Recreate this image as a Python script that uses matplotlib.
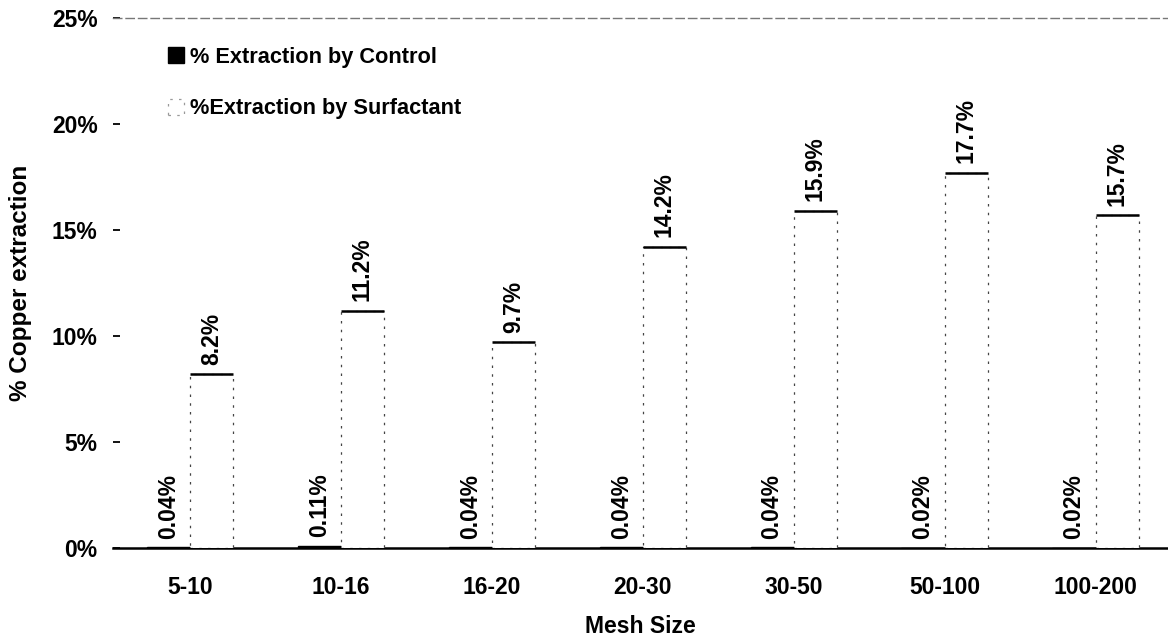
import numpy as np
import matplotlib
matplotlib.use("Agg")
import matplotlib.pyplot as plt

# values (% copper extraction)
mesh_sizes = ["5-10", "10-16", "16-20", "20-30", "30-50", "50-100", "100-200"]
control = [0.04, 0.11, 0.04, 0.04, 0.04, 0.02, 0.02]
surfactant = [8.2, 11.2, 9.7, 14.2, 15.9, 17.7, 15.7]
control_labels = ["0.04%", "0.11%", "0.04%", "0.04%", "0.04%", "0.02%", "0.02%"]
surfactant_labels = ["8.2%", "11.2%", "9.7%", "14.2%", "15.9%", "17.7%", "15.7%"]
y_ticks = [0, 5, 10, 15, 20, 25]

plt.rcParams['font.family'] = ['Liberation Sans', 'DejaVu Sans']
plt.rcParams['font.weight'] = 'bold'

fig = plt.figure(figsize=(11.68, 6.43), dpi=100)
ax = fig.add_axes([0.0967, 0.1477, 0.9033, 0.8243])

x = np.arange(len(mesh_sizes))
w = 0.2857

ax.bar(x - w / 2, control, w, color='black', edgecolor='black',
       linewidth=1.0, label='% Extraction by Control', zorder=3)
ax.bar(x + w / 2, surfactant, w, color='white', edgecolor='#444444',
       linewidth=0.9, linestyle=(0, (2, 5)),
       label='%Extraction by Surfactant', zorder=3)
# solid top edge of the surfactant bars, as on the scan
ax.hlines(surfactant, x, x + w, color='black', linewidth=1.8, zorder=4)

for xi, v, t in zip(x - w / 2, control, control_labels):
    ax.text(xi, v + 0.4, t, rotation=90, ha='center', va='bottom',
            fontsize=16.5, fontweight='bold')
for xi, v, t in zip(x + w / 2, surfactant, surfactant_labels):
    ax.text(xi, v + 0.45, t, rotation=90, ha='center', va='bottom',
            fontsize=16.5, fontweight='bold')

ax.set_xlim(-0.51, 6.48)
ax.set_ylim(0, 25)
ax.set_yticks(y_ticks)
ax.set_yticklabels([f"{t}%" for t in y_ticks], fontsize=16.5, fontweight='bold')
ax.set_xticks(x)
ax.set_xticklabels(mesh_sizes, fontsize=16.5, fontweight='bold')
ax.tick_params(axis='x', length=0, pad=20)
ax.tick_params(axis='y', direction='in', length=5, width=1.3, pad=11)

ax.spines['left'].set_visible(False)
ax.spines['right'].set_visible(False)
ax.spines['top'].set_linestyle((0, (6, 3)))
ax.spines['top'].set_color('#777777')
ax.spines['top'].set_linewidth(1.0)
ax.spines['bottom'].set_linewidth(1.8)

ax.set_xlabel("Mesh Size", fontsize=16.5, fontweight='bold', labelpad=12)
ax.set_ylabel("% Copper extraction", fontsize=17.5, fontweight='bold', labelpad=14)

leg = ax.legend(loc='upper left', bbox_to_anchor=(0.044, 0.962), frameon=False,
                fontsize=15.7, handlelength=0.75, handleheight=0.75,
                handletextpad=0.25, labelspacing=1.4, borderaxespad=0)
leg.legend_handles[1].set_edgecolor('#999999')

fig.savefig("out.png", dpi=100)
